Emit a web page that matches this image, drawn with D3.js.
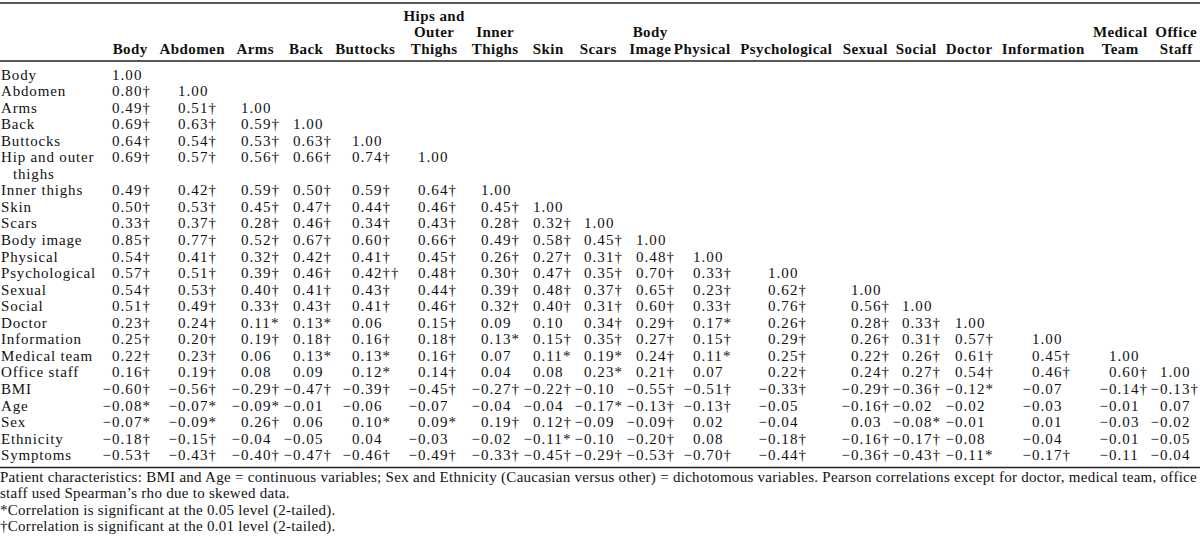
<!DOCTYPE html>
<html>
<head>
<meta charset="utf-8">
<script src="https://cdn.jsdelivr.net/npm/d3@7/dist/d3.min.js"></script>
<style>
  html, body { margin: 0; padding: 0; background: #fff; }
  svg { display: block; }
  text { font-family: "Liberation Serif", "Times New Roman", serif; fill: #111; }
  .hdr { font-weight: bold; font-size: 15px; }
  .lbl, .val { font-size: 15px; }
  .note { font-size: 15px; }
</style>
</head>
<body>
<script>
// ---------------- DATA ----------------
const columns = ["Body", "Abdomen", "Arms", "Back", "Buttocks", "Hips and Outer Thighs",
  "Inner Thighs", "Skin", "Scars", "Body Image", "Physical", "Psychological", "Sexual",
  "Social", "Doctor", "Information", "Medical Team", "Office Staff"];

const headerLines = [["Body"], ["Abdomen"], ["Arms"], ["Back"], ["Buttocks"],
  ["Hips and", "Outer", "Thighs"], ["Inner", "Thighs"], ["Skin"], ["Scars"],
  ["Body", "Image"], ["Physical"], ["Psychological"], ["Sexual"], ["Social"],
  ["Doctor"], ["Information"], ["Medical", "Team"], ["Office", "Staff"]];

const rowLabels = ["Body", "Abdomen", "Arms", "Back", "Buttocks", "Hip and outer thighs",
  "Inner thighs", "Skin", "Scars", "Body image", "Physical", "Psychological", "Sexual",
  "Social", "Doctor", "Information", "Medical team", "Office staff", "BMI", "Age", "Sex",
  "Ethnicity", "Symptoms"];

const rowLabelLines = [["Body"], ["Abdomen"], ["Arms"], ["Back"], ["Buttocks"],
  ["Hip and outer", "thighs"], ["Inner thighs"], ["Skin"], ["Scars"], ["Body image"],
  ["Physical"], ["Psychological"], ["Sexual"], ["Social"], ["Doctor"], ["Information"],
  ["Medical team"], ["Office staff"], ["BMI"], ["Age"], ["Sex"], ["Ethnicity"], ["Symptoms"]];

const rBody = ["1.00"];
const rAbdomen = ["0.80†", "1.00"];
const rArms = ["0.49†", "0.51†", "1.00"];
const rBack = ["0.69†", "0.63†", "0.59†", "1.00"];
const rButtocks = ["0.64†", "0.54†", "0.53†", "0.63†", "1.00"];
const rHip = ["0.69†", "0.57†", "0.56†", "0.66†", "0.74†", "1.00"];
const rInner = ["0.49†", "0.42†", "0.59†", "0.50†", "0.59†", "0.64†", "1.00"];
const rSkin = ["0.50†", "0.53†", "0.45†", "0.47†", "0.44†", "0.46†", "0.45†", "1.00"];
const rScars = ["0.33†", "0.37†", "0.28†", "0.46†", "0.34†", "0.43†", "0.28†", "0.32†", "1.00"];
const rBodyImage = ["0.85†", "0.77†", "0.52†", "0.67†", "0.60†", "0.66†", "0.49†", "0.58†", "0.45†", "1.00"];
const rPhysical = ["0.54†", "0.41†", "0.32†", "0.42†", "0.41†", "0.45†", "0.26†", "0.27†", "0.31†", "0.48†", "1.00"];
const rPsych = ["0.57†", "0.51†", "0.39†", "0.46†", "0.42††", "0.48†", "0.30†", "0.47†", "0.35†", "0.70†", "0.33†", "1.00"];
const rSexual = ["0.54†", "0.53†", "0.40†", "0.41†", "0.43†", "0.44†", "0.39†", "0.48†", "0.37†", "0.65†", "0.23†", "0.62†", "1.00"];
const rSocial = ["0.51†", "0.49†", "0.33†", "0.43†", "0.41†", "0.46†", "0.32†", "0.40†", "0.31†", "0.60†", "0.33†", "0.76†", "0.56†", "1.00"];
const rDoctor = ["0.23†", "0.24†", "0.11*", "0.13*", "0.06", "0.15†", "0.09", "0.10", "0.34†", "0.29†", "0.17*", "0.26†", "0.28†", "0.33†", "1.00"];
const rInformation = ["0.25†", "0.20†", "0.19†", "0.18†", "0.16†", "0.18†", "0.13*", "0.15†", "0.35†", "0.27†", "0.15†", "0.29†", "0.26†", "0.31†", "0.57†", "1.00"];
const rMedTeam = ["0.22†", "0.23†", "0.06", "0.13*", "0.13*", "0.16†", "0.07", "0.11*", "0.19*", "0.24†", "0.11*", "0.25†", "0.22†", "0.26†", "0.61†", "0.45†", "1.00"];
const rOffice = ["0.16†", "0.19†", "0.08", "0.09", "0.12*", "0.14†", "0.04", "0.08", "0.23*", "0.21†", "0.07", "0.22†", "0.24†", "0.27†", "0.54†", "0.46†", "0.60†", "1.00"];
const rBMI = ["−0.60†", "−0.56†", "−0.29†", "−0.47†", "−0.39†", "−0.45†", "−0.27†", "−0.22†", "−0.10", "−0.55†", "−0.51†", "−0.33†", "−0.29†", "−0.36†", "−0.12*", "−0.07", "−0.14†", "−0.13†"];
const rAge = ["−0.08*", "−0.07*", "−0.09*", "−0.01", "−0.06", "−0.07", "−0.04", "−0.04", "−0.17*", "−0.13†", "−0.13†", "−0.05", "−0.16†", "−0.02", "−0.02", "−0.03", "−0.01", "0.07"];
const rSex = ["−0.07*", "−0.09*", "0.26†", "0.06", "0.10*", "0.09*", "0.19†", "0.12†", "−0.09", "−0.09†", "0.02", "−0.04", "0.03", "−0.08*", "−0.01", "0.01", "−0.03", "−0.02"];
const rEthnicity = ["−0.18†", "−0.15†", "−0.04", "−0.05", "0.04", "−0.03", "−0.02", "−0.11*", "−0.10", "−0.20†", "0.08", "−0.18†", "−0.16†", "−0.17†", "−0.08", "−0.04", "−0.01", "−0.05"];
const rSymptoms = ["−0.53†", "−0.43†", "−0.40†", "−0.47†", "−0.46†", "−0.49†", "−0.33†", "−0.45†", "−0.29†", "−0.53†", "−0.70†", "−0.44†", "−0.36†", "−0.43†", "−0.11*", "−0.17†", "−0.11", "−0.04"];

const values = [rBody, rAbdomen, rArms, rBack, rButtocks, rHip, rInner, rSkin, rScars,
  rBodyImage, rPhysical, rPsych, rSexual, rSocial, rDoctor, rInformation, rMedTeam,
  rOffice, rBMI, rAge, rSex, rEthnicity, rSymptoms];

const footnotes = [
  "Patient characteristics: BMI and Age = continuous variables; Sex and Ethnicity (Caucasian versus other) = dichotomous variables. Pearson correlations except for doctor, medical team, office",
  "staff used Spearman’s rho due to skewed data.",
  "*Correlation is significant at the 0.05 level (2-tailed).",
  "†Correlation is significant at the 0.01 level (2-tailed)."
];

// ---------------- LAYOUT ----------------
const W = 1200, H = 537;
const headerCenters = [130, 192, 255, 306, 365, 434, 495, 548, 598, 650, 702, 786, 865, 916, 969, 1043, 1120, 1176];
const digitStarts = [112, 178, 241, 293, 352, 418, 481, 533, 584, 636, 693, 768, 851, 902, 955, 1032, 1109, 1160];

const svg = d3.select("body").append("svg").attr("width", W).attr("height", H);

// letter-spacing so that a sample string reaches the width it has in the reference
function fitSpacing(cls, sample, target) {
  const t = svg.append("text").attr("class", cls).text(sample);
  const w = t.node().getComputedTextLength();
  t.remove();
  return (target - w) / sample.length;
}
const lsLabel = fitSpacing("lbl", "Psychological", 95);
const lsHdr = fitSpacing("hdr", "Information", 83);
const lsVal = fitSpacing("val", "0.80†", 39);
const lsNote = fitSpacing("note", footnotes[0], 1197);
svg.selectAll("*").remove();

const xHeader = d3.scaleOrdinal().domain(columns).range(headerCenters);
const xDigit = d3.scaleOrdinal().domain(columns).range(digitStarts);
const yLine = d3.scaleLinear().domain([0, 1]).range([79.5, 96.05]);
const yHead = d3.scaleLinear().domain([0, 1]).range([54, 37.3]); // header lines counted from bottom

// rules
const rules = [{ y: 3, w: 1.6 }, { y: 61, w: 1.4 }, { y: 467.5, w: 1.4 }];
svg.selectAll("line.rule").data(rules).join("line")
  .attr("class", "rule")
  .attr("x1", 0).attr("x2", W)
  .attr("y1", d => d.y).attr("y2", d => d.y)
  .attr("stroke", "#222").attr("stroke-width", d => d.w);

// header
const hdr = svg.selectAll("g.hdr").data(columns).join("g").attr("class", "hdr");
hdr.each(function (c, i) {
  const lines = headerLines[i];
  d3.select(this).selectAll("text").data(lines).join("text")
    .attr("x", xHeader(c) + lsHdr / 2)
    .attr("y", (l, k) => yHead(lines.length - 1 - k))
    .attr("text-anchor", "middle")
    .style("letter-spacing", lsHdr + "px")
    .text(l => l);
});

// row line positions
const rowStart = [];
let acc = 0;
rowLabelLines.forEach(ls => { rowStart.push(acc); acc += ls.length; });

// row labels
const lbl = svg.selectAll("g.lbl").data(rowLabels).join("g").attr("class", "lbl");
lbl.each(function (r, i) {
  d3.select(this).selectAll("text").data(rowLabelLines[i]).join("text")
    .attr("x", (l, k) => k === 0 ? 1 : 13)
    .attr("y", (l, k) => yLine(rowStart[i] + k))
    .style("letter-spacing", lsLabel + "px")
    .text(l => l);
});

// measure zero width for decimal alignment
const probe = svg.append("text").attr("class", "val").style("letter-spacing", lsVal + "px").text("0");
const zeroW = probe.node().getComputedTextLength();
probe.remove();

// cells
const cells = [];
values.forEach((row, i) => row.forEach((v, j) => {
  const dot = v.indexOf(".");
  cells.push({ row: i, col: columns[j], ip: v.slice(0, dot), fp: v.slice(dot) });
}));

const cg = svg.selectAll("g.cell").data(cells).join("g").attr("class", "cell val");
cg.append("text")
  .attr("x", d => xDigit(d.col) + zeroW)
  .attr("y", d => yLine(rowStart[d.row]))
  .attr("text-anchor", "end")
  .style("letter-spacing", lsVal + "px")
  .text(d => d.ip);
cg.append("text")
  .attr("x", d => xDigit(d.col) + zeroW)
  .attr("y", d => yLine(rowStart[d.row]))
  .style("letter-spacing", lsVal + "px")
  .text(d => d.fp);

// footnotes
svg.selectAll("text.note").data(footnotes).join("text")
  .attr("class", "note")
  .attr("x", 0)
  .attr("y", (d, i) => 482 + i * 16.4)
  .style("letter-spacing", lsNote + "px")
  .text(d => d);
</script>
</body>
</html>
